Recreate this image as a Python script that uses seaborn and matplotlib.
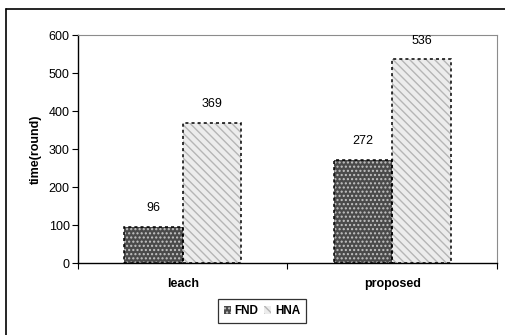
import matplotlib
matplotlib.use("Agg")
import matplotlib.pyplot as plt
import seaborn as sns
import pandas as pd
from matplotlib.patches import Rectangle
from matplotlib.lines import Line2D

# data
categories = ["leach", "proposed"]
fnd_values = [96, 272]
hna_values = [369, 536]
series_names = ["FND", "HNA"]

df = pd.DataFrame({
    "scheme": categories * 2,
    "metric": [series_names[0]] * 2 + [series_names[1]] * 2,
    "rounds": fnd_values + hna_values,
})

sns.set_theme(style="white")
plt.rcParams["font.family"] = ["Liberation Sans", "DejaVu Sans"]
plt.rcParams["hatch.linewidth"] = 1.0
for k in ["text.color", "axes.labelcolor", "xtick.color", "ytick.color"]:
    plt.rcParams[k] = "black"

fig = plt.figure(figsize=(5.06, 3.35), dpi=100)
ax = fig.add_axes([78 / 506, 1 - 263 / 335, (497 - 78) / 506, (263 - 35) / 335])

face = {"FND": "#4a4a4a", "HNA": "#ececec"}
hatch_col = {"FND": "#c4c4c4", "HNA": "#b5b5b5"}
hatch_pat = {"FND": "....", "HNA": "\\\\\\\\"}

sns.barplot(data=df, x="scheme", y="rounds", hue="metric", order=categories,
            hue_order=series_names, palette=face, width=0.56, gap=0,
            legend=False, ax=ax)

for cont, name in zip(ax.containers, series_names):
    for p in cont:
        p.set_hatch(hatch_pat[name])
        p.set_edgecolor(hatch_col[name])
        p.set_linewidth(0)
        ax.add_patch(Rectangle(p.get_xy(), p.get_width(), p.get_height(),
                               fill=False, edgecolor="black", linewidth=1.1,
                               linestyle=(0, (2, 2)), zorder=3))
    ax.bar_label(cont, labels=[str(int(v)) for v in cont.datavalues],
                 padding=9, fontsize=9)

ax.set_ylim(0, 600)
ax.set_yticks(range(0, 601, 100))
ax.set_xlim(-0.5, 1.5)
ax.set_xticks([0, 1])
ax.set_xticklabels(categories, fontweight="bold", fontsize=9)
ax.set_xticks([-0.5, 0.5, 1.5], minor=True)
ax.tick_params(axis="x", which="major", length=0, pad=11)
ax.tick_params(axis="x", which="minor", length=4, width=0.8, color="black",
               direction="out", bottom=True)
ax.tick_params(axis="y", length=4, width=0.8, color="black", direction="out",
               left=True, labelsize=9, pad=2)
ax.set_xlabel("")
ax.set_ylabel("time(round)", fontweight="bold", fontsize=9, labelpad=5)

for s in ["left", "bottom"]:
    ax.spines[s].set_color("black")
    ax.spines[s].set_linewidth(1.0)
for s in ["top", "right"]:
    ax.spines[s].set_color("#8c8c8c")
    ax.spines[s].set_linewidth(0.8)

# figure border (left and top edges visible)
fig.add_artist(Line2D([6 / 506, 6 / 506], [0, 1 - 9 / 335], color="black",
                      linewidth=1.2, transform=fig.transFigure))
fig.add_artist(Line2D([6 / 506, 1], [1 - 9 / 335, 1 - 9 / 335], color="black",
                      linewidth=1.2, transform=fig.transFigure))

handles = [Rectangle((0, 0), 1, 1, facecolor=face[n], edgecolor=hatch_col[n],
                     hatch=hatch_pat[n], linewidth=0) for n in series_names]
leg = fig.legend(handles, series_names, loc="center", ncol=2,
                 bbox_to_anchor=(262 / 506, 1 - 311 / 335),
                 prop={"weight": "bold", "size": 8.5},
                 handlelength=0.6, handleheight=0.6, handletextpad=0.3,
                 columnspacing=0.5, borderpad=0.5, fancybox=False,
                 frameon=True)
leg.get_frame().set_edgecolor("black")
leg.get_frame().set_linewidth(0.9)

fig.savefig("out.png", dpi=100)
